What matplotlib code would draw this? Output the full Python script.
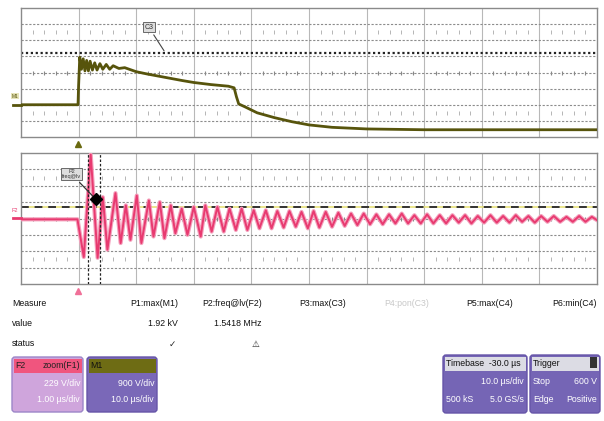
import matplotlib.pyplot as plt
from matplotlib.patches import FancyBboxPatch
import numpy as np

plt.rcParams['font.family'] = ['Liberation Sans', 'DejaVu Sans']

# M1 trace (top panel), time in us, level in divisions
m1_t = [-10, -0.1, 0.0, 0.2, 0.5, 0.8, 1.1, 1.4, 1.7, 2.0, 2.4, 2.8, 3.2, 3.7,
        4.2, 4.8, 5.4, 6.0, 7.0, 8.0, 10, 12, 15, 18, 20, 23, 26, 27.0, 27.4,
        27.8, 29, 31, 34, 37, 40, 44, 50, 60, 90]
m1_v = [-2.0, -2.0, -0.8, 0.95, 0.2, 0.85, 0.1, 0.75, 0.1, 0.7, 0.15, 0.6, 0.15, 0.55,
        0.2, 0.5, 0.2, 0.42, 0.25, 0.3, 0.05, -0.1, -0.3, -0.5, -0.62, -0.75, -0.85, -0.95, -1.5,
        -1.95, -2.15, -2.5, -2.8, -3.05, -3.25, -3.4, -3.5, -3.55, -3.55]

# F2 trace (bottom panel, zoom of F1)
f2_t = [-10, -0.2, 0.9, 2.1, 3.3, 4.2, 5.0, 6.4, 7.3, 8.2, 9.0, 10.1, 10.9, 12.2,
        13.0, 14.1, 14.9, 16.0, 16.8, 17.9, 18.9, 20.0, 21.2, 22.0, 23.1, 24.1,
        25.2, 26.2, 27.3, 28.3, 29.3, 30.4, 31.4, 32.5, 33.5, 34.5, 35.6, 36.6,
        37.7, 38.7, 39.8, 40.8, 41.8, 42.9, 44.0, 45.1, 46.2, 47.3, 48.4, 49.5,
        50.6, 51.7, 52.8, 53.9, 55.0, 56.1, 57.2, 58.3, 59.4, 60.5, 61.6, 62.7,
        63.8, 64.9, 66.0, 67.1, 68.2, 69.3, 70.4, 71.5, 72.6, 73.7, 74.8, 75.9,
        77.0, 78.1, 79.2, 80.3, 81.4, 82.5, 83.6, 84.7, 85.8, 86.9, 88.0, 89.1, 90.0]
f2_v = [-0.05, -0.05, -2.35, 3.9, -2.4, 1.3, -1.9, 1.55, -1.5, 0.8, -1.3, 1.4, -1.5, 1.1,
        -1.1, 1.0, -1.2, 0.8, -0.9, 0.6, -1.0, 0.7, -1.1, 0.8, -0.8, 0.7,
        -0.8, 0.6, -0.7, 0.6, -0.7, 0.5, -0.6, 0.5, -0.6, 0.45, -0.55, 0.45,
        -0.5, 0.4, -0.6, 0.45, -0.55, 0.4, -0.5, 0.35, -0.45, 0.3, -0.4, 0.3,
        -0.35, 0.25, -0.35, 0.25, -0.3, 0.3, -0.3, 0.2, -0.3, 0.25, -0.3, 0.2,
        -0.3, 0.2, -0.25, 0.2, -0.3, 0.15, -0.25, 0.2, -0.25, 0.15, -0.25, 0.2,
        -0.2, 0.15, -0.25, 0.15, -0.2, 0.15, -0.2, 0.1, -0.2, 0.15, -0.2, 0.1, -0.1]

m1_level = 1.2       # dotted level line, top
f2_level = 0.7       # dash-dot level line, bottom
cursors = [1.56, 3.65]
marker_pt = (2.95, 1.19)

headers = ['P1:max(M1)', 'P2:freq@lv(F2)', 'P3:max(C3)', 'P4:pon(C3)', 'P5:max(C4)', 'P6:min(C4)']
values = ['1.92 kV', '1.5418 MHz', '', '', '', '']
status = ['\u2713', '\u26a0', '', '', '', '']

OLIVE = '#57540c'
PINK = '#e83a70'
W, H = 604, 421

fig = plt.figure(figsize=(6.04, 4.21), dpi=100)


def panel(top, bottom):
    ax = fig.add_axes([21 / W, 1 - bottom / H, 576 / W, (bottom - top) / H])
    ax.set_xlim(-10, 90)
    ax.set_ylim(-4, 4)
    ax.set_xticks([])
    ax.set_yticks([])
    for s in ax.spines.values():
        s.set_color('#8a8a8a')
        s.set_linewidth(1.0)
    for x in range(0, 90, 10):
        ax.axvline(x, color='#b8b8b8', lw=0.8, zorder=1)
    for y in [-3, -2, -1, 0, 1, 2, 3]:
        ax.axhline(y, color='#8c8c8c', lw=0.8, ls=(0, (2, 1.5)), zorder=1)
    xs = [x for x in np.arange(-8, 90, 2) if x % 10 != 0]
    for y in [-2.5, 2.5]:
        ax.scatter(xs, [y] * len(xs), marker='|', s=6, color='#aaaaaa', lw=0.6, zorder=1)
    ax.scatter(xs, [0] * len(xs), marker='|', s=10, color='#888888', lw=0.8, zorder=1)
    return ax


ax1 = panel(8, 137)
ax1.axhline(m1_level, color='#222222', lw=1.6, ls=(0, (1, 1.2)), zorder=2)
ax1.plot(m1_t, m1_v, color=OLIVE, lw=2.0, zorder=3, solid_joinstyle='round')
ax1.annotate('C3', xy=(15.1, m1_level), xytext=(12.2, 2.8), fontsize=5, ha='center', va='center',
             color='#333333',
             bbox=dict(boxstyle='square,pad=0.2', fc='#dddddd', ec='#555555', lw=0.6),
             arrowprops=dict(arrowstyle='-', color='#444444', lw=0.8), zorder=5)

ax2 = panel(153, 284)
ax2.axhline(f2_level, color='#e8e27a', lw=1.2, zorder=2)
ax2.axhline(f2_level, color='#333333', lw=1.4, ls=(0, (4, 3)), zorder=2)
ax2.plot(f2_t, f2_v, color='#f4a0bc', lw=3.0, zorder=3, solid_joinstyle='round')
ax2.plot(f2_t, f2_v, color=PINK, lw=1.4, zorder=3, solid_joinstyle='round')
for c in cursors:
    ax2.axvline(c, color='#222222', lw=0.9, ls=(0, (2, 1.5)), zorder=4)
ax2.plot(*marker_pt, marker='D', color='black', ms=6, zorder=6)
ax2.annotate('P2\nfreq@lv', xy=marker_pt, xytext=(-1.2, 2.7), fontsize=4, ha='center', va='center',
             color='#333333', linespacing=0.9,
             bbox=dict(boxstyle='square,pad=0.2', fc='#dddddd', ec='#555555', lw=0.6),
             arrowprops=dict(arrowstyle='-', color='#333333', lw=0.9), zorder=5)

# overlay in pixel coordinates for the readout area
ov = fig.add_axes([0, 0, 1, 1], zorder=10)
ov.set_xlim(0, W)
ov.set_ylim(H, 0)
ov.axis('off')
ov.patch.set_alpha(0)

# channel markers on left
ov.plot([13, 21], [105, 105], color=OLIVE, lw=2)
ov.text(15, 96, 'M1', fontsize=3.5, ha='center', va='center', color=OLIVE,
        bbox=dict(boxstyle='square,pad=0.15', fc='#e6e3b8', ec='none'))
ov.plot([13, 21], [218, 218], color=PINK, lw=2)
ov.text(15, 210, 'F2', fontsize=4, ha='center', va='center', color=PINK)
ov.plot(78, 144, marker='^', color='#6a6a10', ms=5)
ov.plot(78, 291, marker='^', color='#f07098', ms=5)

# measure table
fs = 6.3
ov.text(12, 304, 'Measure', fontsize=fs, va='center', color='#111111')
ov.text(12, 324, 'value', fontsize=fs, va='center', color='#111111')
ov.text(12, 344, 'status', fontsize=fs, va='center', color='#111111')
for i, (h, v, s) in enumerate(zip(headers, values, status)):
    x = 178 + i * 83.8
    col = '#c8c8c8' if i == 3 else '#111111'
    ov.text(x, 304, h, fontsize=fs, ha='right', va='center', color=col)
    ov.text(x, 324, v, fontsize=fs, ha='right', va='center', color='#111111')
    ov.text(x - 2, 344, s, fontsize=fs, ha='right', va='center', color='#222222',
            family='DejaVu Sans')


def box(x0, x1, y0, y1, head_col, body_col, ec):
    ov.add_patch(FancyBboxPatch((x0, y0), x1 - x0, y1 - y0,
                                boxstyle='round,pad=0,rounding_size=3',
                                fc=body_col, ec=ec, lw=1.0))
    ov.add_patch(FancyBboxPatch((x0 + 1.5, y0 + 1.5), x1 - x0 - 3, 14,
                                boxstyle='square,pad=0', fc=head_col, ec='none'))


box(12, 83, 357, 412, '#f0557e', '#cfa5dc', '#9c86c8')
ov.text(15, 365, 'F2', fontsize=fs, va='center', color='#222222')
ov.text(80, 365, 'zoom(F1)', fontsize=fs, ha='right', va='center', color='#222222')
ov.text(80, 383, '229 V/div', fontsize=fs, ha='right', va='center', color='white')
ov.text(80, 400, '1.00 \u00b5s/div', fontsize=fs, ha='right', va='center', color='white')

box(87, 157, 357, 412, '#6e6c14', '#7a68b8', '#6655a8')
ov.text(90, 365, 'M1', fontsize=fs, va='center', color='#111111')
ov.text(154, 383, '900 V/div', fontsize=fs, ha='right', va='center', color='white')
ov.text(154, 400, '10.0 \u00b5s/div', fontsize=fs, ha='right', va='center', color='white')

box(443, 527, 355, 413, '#dcdce4', '#7565b5', '#6655a8')
ov.text(446, 363, 'Timebase  -30.0 \u00b5s', fontsize=fs, va='center', color='#111111')
ov.text(524, 382, '10.0 \u00b5s/div', fontsize=fs, ha='right', va='center', color='white')
ov.text(446, 400, '500 kS', fontsize=fs, va='center', color='white')
ov.text(524, 400, '5.0 GS/s', fontsize=fs, ha='right', va='center', color='white')

box(530, 600, 355, 413, '#dcdce4', '#7565b5', '#6655a8')
ov.text(533, 363, 'Trigger', fontsize=fs, va='center', color='#111111')
ov.add_patch(FancyBboxPatch((590, 357), 7, 11, boxstyle='square,pad=0', fc='#333333', ec='none'))
ov.text(533, 382, 'Stop', fontsize=fs, va='center', color='white')
ov.text(597, 382, '600 V', fontsize=fs, ha='right', va='center', color='white')
ov.text(533, 400, 'Edge', fontsize=fs, va='center', color='white')
ov.text(597, 400, 'Positive', fontsize=fs, ha='right', va='center', color='white')

fig.savefig('out.png', dpi=100)
